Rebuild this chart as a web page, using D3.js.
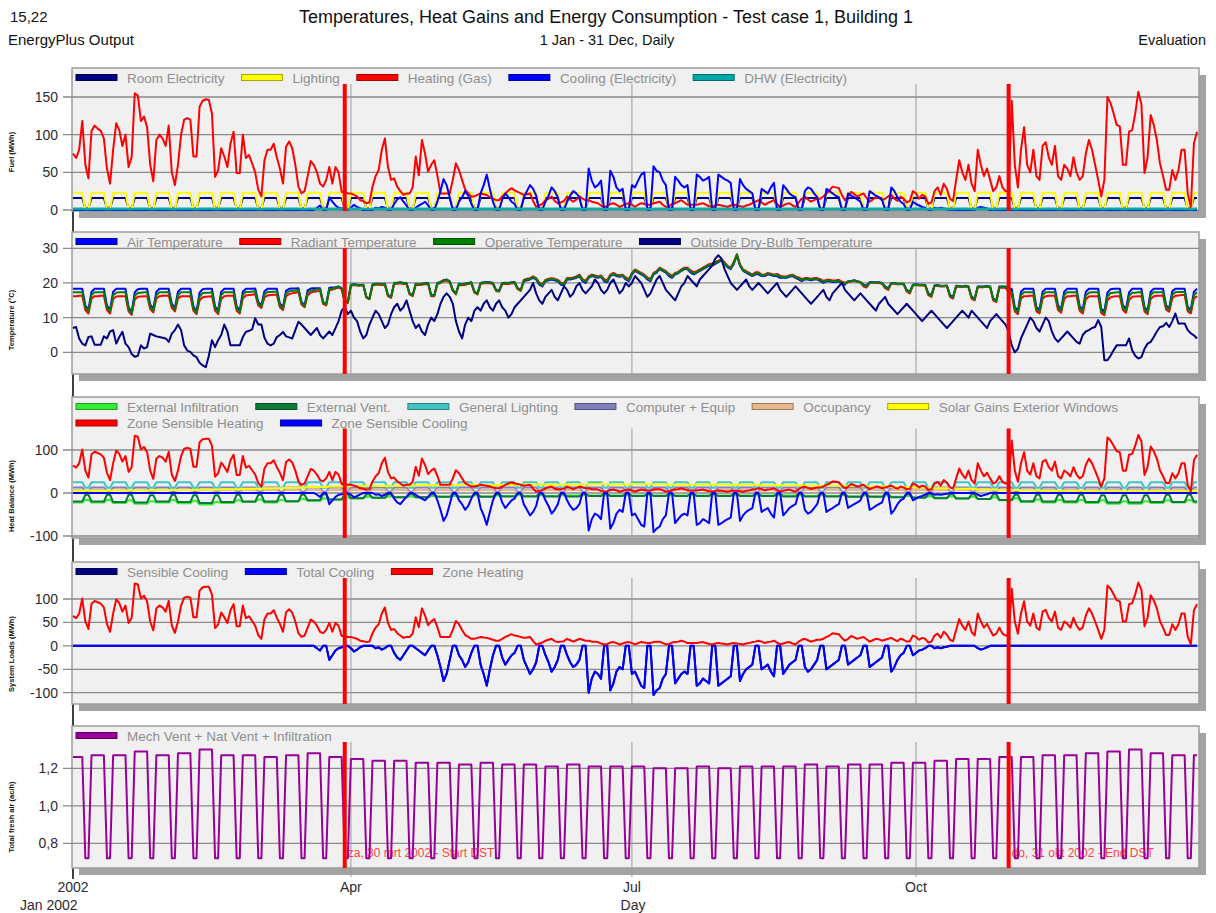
<!DOCTYPE html>
<html><head><meta charset="utf-8">
<script src="https://cdn.jsdelivr.net/npm/d3@7"></script>
<style>
body{margin:0;background:#fff;}
svg{display:block;font-family:"Liberation Sans",Arial,sans-serif;}
</style></head><body>
<svg id="chart" width="1216" height="913"></svg>
<script>
// ---- Calendar: daily values, 1 Jan 2002 (Tuesday) .. 31 Dec 2002 ----
const startDate = new Date(2002, 0, 1);
const endDate = new Date(2002, 11, 31);
const dates = d3.range(365).map(i => d3.timeDay.offset(startDate, i));

// ---- Fixed weekly schedules, indexed Sun..Sat ----
const roomElecWeek   = [2, 16, 16, 16, 16, 16, 2];
const lightingWeek   = [0, 23, 23, 23, 23, 23, 0];
const dhwWeek        = [1, 1.5, 1.5, 1.5, 1.5, 1.5, 1];
const genLightingWeek = [12, 25, 25, 25, 25, 25, 12];
const computerWeek   = [3, 13, 13, 13, 13, 13, 3];
const occupancyWeek  = [0, 7, 7, 7, 7, 7, 0];

// ---- Week-by-week levels (week 0 = Tue 1 Jan .. Sun 6 Jan, weeks start Monday) ----
const extVentWeekday = [-20,-20,-21,-22,-20,-21,-23,-21,-20,-20,
  -19,-17,-15,-12,-11,-10,-10,-9,-9,-9,
  -8,-8,-8,-8,-7,-7,-7,-7,-7,-7,
  -7,-7,-7,-8,-8,-8,-9,-9,-10,-11,
  -12,-13,-14,-16,-19,-20,-20,-21,-22,-22,
  -21,-21,-20];
const extVentWeekend = [-4,-4,-4,-5,-4,-5,-5,-4,-4,-4,
  -4,-3,-3,-3,-3,-3,-3,-3,-3,-3,
  -2,-2,-2,-2,-2,-2,-2,-2,-2,-2,
  -2,-2,-2,-2,-2,-3,-3,-3,-3,-3,
  -3,-3,-3,-4,-4,-4,-4,-5,-5,-5,
  -4,-4,-4];
const extInfWeekday = [-22,-22,-23,-25,-22,-24,-27,-23,-21,-22,
  -20,-18,-15,-12,-11,-10,-10,-9,-9,-8,
  -7,-7,-7,-6,-6,-6,-6,-6,-6,-6,
  -6,-6,-6,-6,-7,-7,-8,-8,-9,-10,
  -11,-12,-14,-17,-21,-22,-22,-23,-25,-25,
  -23,-22,-22];
const extInfWeekend = [-16,-16,-17,-19,-16,-18,-21,-17,-15,-16,
  -14,-13,-11,-9,-8,-8,-7,-7,-6,-6,
  -5,-5,-5,-5,-5,-5,-5,-5,-5,-5,
  -5,-5,-5,-5,-5,-5,-6,-6,-7,-8,
  -8,-9,-10,-12,-15,-16,-16,-17,-19,-19,
  -17,-16,-16];
const solarWeekly = [5,5,6,6,7,7,8,9,10,11,
  12,14,15,16,16,17,18,18,19,18,
  19,20,19,20,21,20,21,20,19,20,
  19,19,18,18,17,17,16,15,14,13,
  11,10,8,7,6,5,5,4,4,4,
  4,4,5];
const freshAirWeekday = [1.26,1.27,1.27,1.29,1.27,1.28,1.30,1.27,1.27,1.26,
  1.27,1.28,1.26,1.25,1.24,1.24,1.23,1.23,1.22,1.23,
  1.22,1.22,1.21,1.22,1.21,1.21,1.21,1.20,1.20,1.21,
  1.20,1.21,1.21,1.21,1.22,1.21,1.22,1.22,1.23,1.23,
  1.24,1.25,1.25,1.26,1.26,1.27,1.27,1.28,1.29,1.30,
  1.28,1.27,1.27];
const freshAirWeekend = 0.72;

// ---- Daily series (one row per week, Mon..Sun) ----
const heatingGas = [
  75,69,80,118,60,42,
  105,112,108,105,95,55,35,
  80,115,106,85,100,57,70,
  155,152,118,124,110,60,38,
  93,100,95,85,112,50,33,
  60,100,120,122,120,71,71,
  137,145,147,146,128,44,53,
  82,71,57,88,104,49,49,
  100,69,73,62,50,27,18,
  66,80,80,88,70,55,35,
  84,91,82,60,31,22,25,
  45,65,60,50,35,31,40,
  57,35,57,50,24,24,22,
  22,20,18,13,12,9,10,
  31,45,53,80,95,57,40,
  42,31,25,20,22,22,30,
  71,46,93,75,51,60,66,
  46,22,22,22,22,40,62,
  53,40,27,22,18,18,20,
  22,21,20,17,15,13,13,
  18,22,26,29,26,24,22,
  20,21,22,12,4,6,8,
  13,15,18,12,9,10,12,
  18,14,11,14,18,15,13,
  13,11,10,9,6,4,5,
  8,9,7,4,6,8,9,
  7,4,7,9,8,7,7,
  9,10,11,7,4,5,8,
  9,11,13,10,7,7,7,
  7,8,9,7,5,4,6,
  7,6,5,4,6,7,6,
  5,4,6,7,9,11,13,
  10,7,9,11,13,8,4,
  6,8,9,6,4,10,15,
  18,14,11,13,15,15,18,
  22,26,31,30,29,20,13,
  18,24,21,18,20,22,16,
  11,14,17,16,13,15,18,
  20,15,12,18,15,10,12,
  25,22,15,20,18,8,10,
  25,30,20,35,28,15,12,
  40,66,50,40,60,35,25,
  80,60,45,55,40,25,30,
  45,30,25,25,145,60,30,
  80,110,60,50,80,45,40,
  85,90,70,60,85,45,40,
  60,55,45,70,50,40,45,
  75,93,80,60,40,18,40,
  150,142,128,113,111,60,60,
  104,106,128,157,140,49,70,
  126,113,93,62,45,27,27,
  53,40,53,80,80,22,4,
  88,104];

const zoneSensibleHeating = [
  64,59,69,101,52,36,
  90,96,93,90,82,47,30,
  69,99,91,73,86,49,60,
  133,131,101,107,95,52,33,
  80,86,82,73,96,43,28,
  52,86,103,105,103,61,61,
  118,125,126,126,110,38,46,
  71,61,49,76,89,42,42,
  86,59,63,53,43,23,15,
  57,69,69,76,60,47,30,
  72,78,71,52,27,19,22,
  39,56,52,43,30,27,34,
  49,30,49,43,21,21,19,
  19,17,15,11,10,8,9,
  27,39,46,69,82,49,34,
  36,27,22,17,19,19,26,
  61,40,80,65,44,52,57,
  40,19,19,19,19,34,53,
  46,34,23,19,15,15,17,
  19,18,17,15,13,11,11,
  15,19,22,25,22,21,19,
  17,18,19,10,3,5,7,
  11,13,15,10,8,9,10,
  15,12,9,12,15,13,11,
  11,9,9,8,5,3,4,
  7,8,6,3,5,7,8,
  6,3,6,8,7,6,6,
  8,9,9,6,3,4,7,
  8,9,11,9,6,6,6,
  6,7,8,6,4,3,5,
  6,5,4,3,5,6,5,
  4,3,5,6,8,9,11,
  9,6,8,9,11,7,3,
  5,7,8,5,3,9,13,
  15,12,9,11,13,13,15,
  19,22,27,26,25,17,11,
  15,21,18,15,17,19,14,
  9,12,15,14,11,13,15,
  17,13,10,15,13,9,10,
  22,19,13,17,15,7,9,
  22,26,17,30,24,13,10,
  34,57,43,34,52,30,22,
  69,52,39,47,34,22,26,
  39,26,22,22,122,52,26,
  69,95,52,43,69,39,34,
  73,77,60,52,73,39,34,
  52,47,39,60,43,34,39,
  65,80,69,52,34,15,34,
  129,122,110,97,95,52,52,
  89,91,110,135,120,42,60,
  108,97,80,53,39,23,23,
  46,34,46,69,69,19,3,
  76,89];

const totalCooling = [
  0,0,0,0,0,0,
  0,0,0,0,0,0,0, 0,0,0,0,0,0,0, 0,0,0,0,0,0,0, 0,0,0,0,0,0,0, 0,0,0,0,0,0,0,
  0,0,0,0,0,0,0, 0,0,0,0,0,0,0, 0,0,0,0,0,0,0, 0,0,0,0,0,0,0, 0,0,0,0,0,0,0,
  0,0,0,-5,-10,0,0,
  -30,-20,-10,-5,-3,0,0,
  -5,-12,-8,-3,0,0,0,
  0,-5,-3,-8,-5,0,0,
  -15,-25,-30,-20,-10,0,0,
  -5,-10,-15,-20,-10,0,0,
  -20,-45,-75,-60,-30,0,0,
  -20,-30,-45,-35,-15,0,0,
  -40,-60,-85,-50,-20,0,0,
  -25,-40,-30,-20,-15,0,0,
  -30,-45,-60,-50,-35,0,0,
  -20,-35,-55,-45,-30,0,0,
  -20,-35,-45,-40,-30,0,0,
  -100,-70,-55,-60,-70,0,0,
  -95,-80,-55,-45,-50,0,0,
  -60,-55,-70,-85,-90,0,0,
  -105,-95,-90,-70,-60,0,0,
  -80,-70,-60,-55,-60,0,0,
  -85,-80,-70,-75,-80,0,0,
  -85,-80,-75,-70,-65,0,0,
  -75,-60,-50,-45,-40,0,0,
  -50,-45,-40,-55,-65,0,0,
  -60,-50,-40,-35,-30,0,0,
  -45,-55,-50,-40,-30,0,0,
  -50,-45,-40,-35,-30,0,0,
  -40,-35,-30,-25,-20,0,0,
  -45,-40,-35,-30,-25,0,0,
  -55,-45,-30,-20,-15,0,0,
  -20,-15,-10,-8,-5,0,0,
  -5,-3,-5,-3,-2,0,0,
  0,0,0,0,0,0,0,
  -5,-8,-6,-3,0,0,0,
  0,0,0,0,0,0,0, 0,0,0,0,0,0,0, 0,0,0,0,0,0,0, 0,0,0,0,0,0,0, 0,0,0,0,0,0,0,
  0,0,0,0,0,0,0, 0,0,0,0,0,0,0, 0,0,0,0,0,0,0, 0,0,0,0,0,0,0,
  0,0];

const zoneSensibleCooling = [
  0,0,0,0,0,0,
  0,0,0,0,0,0,0, 0,0,0,0,0,0,0, 0,0,0,0,0,0,0, 0,0,0,0,0,0,0, 0,0,0,0,0,0,0,
  0,0,0,0,0,0,0, 0,0,0,0,0,0,0, 0,0,0,0,0,0,0, 0,0,0,0,0,0,0, 0,0,0,0,0,0,0,
  0,0,0,-4,-9,0,0,
  -26,-17,-9,-4,-3,0,0,
  -4,-10,-7,-3,0,0,0,
  0,-4,-3,-7,-4,0,0,
  -13,-22,-26,-17,-9,0,0,
  -4,-9,-13,-17,-9,0,0,
  -17,-39,-65,-52,-26,0,0,
  -17,-26,-39,-30,-13,0,0,
  -35,-52,-74,-44,-17,0,0,
  -22,-35,-26,-17,-13,0,0,
  -26,-39,-52,-44,-30,0,0,
  -17,-30,-48,-39,-26,0,0,
  -17,-30,-39,-35,-26,0,0,
  -87,-61,-48,-52,-61,0,0,
  -83,-70,-48,-39,-44,0,0,
  -52,-48,-61,-74,-78,0,0,
  -91,-83,-78,-61,-52,0,0,
  -70,-61,-52,-48,-52,0,0,
  -74,-70,-61,-65,-70,0,0,
  -74,-70,-65,-61,-57,0,0,
  -65,-52,-44,-39,-35,0,0,
  -44,-39,-35,-48,-57,0,0,
  -52,-44,-35,-30,-26,0,0,
  -39,-48,-44,-35,-26,0,0,
  -44,-39,-35,-30,-26,0,0,
  -35,-30,-26,-22,-17,0,0,
  -39,-35,-30,-26,-22,0,0,
  -48,-39,-26,-17,-13,0,0,
  -17,-13,-9,-7,-4,0,0,
  -4,-3,-4,-3,-2,0,0,
  0,0,0,0,0,0,0,
  -4,-7,-5,-3,0,0,0,
  0,0,0,0,0,0,0, 0,0,0,0,0,0,0, 0,0,0,0,0,0,0, 0,0,0,0,0,0,0, 0,0,0,0,0,0,0,
  0,0,0,0,0,0,0, 0,0,0,0,0,0,0, 0,0,0,0,0,0,0, 0,0,0,0,0,0,0,
  0,0];

const coolingElec = [
  0,0,0,0,0,0,
  0,0,0,0,0,0,0, 0,0,0,0,0,0,0, 0,0,0,0,0,0,0, 0,0,0,0,0,0,0, 0,0,0,0,0,0,0,
  0,0,0,0,0,0,0, 0,0,0,0,0,0,0, 0,0,0,0,0,0,0, 0,0,0,0,0,0,0, 0,0,0,0,0,0,0,
  0,0,0,3,6,0,0,
  17,11,6,3,2,0,0,
  3,7,4,2,0,0,0,
  0,3,2,4,3,0,0,
  8,14,17,11,6,0,0,
  3,6,8,11,6,0,0,
  11,25,41,33,17,0,0,
  11,17,25,19,8,0,0,
  22,33,47,28,11,0,0,
  14,22,17,11,8,0,0,
  17,25,33,28,19,0,0,
  11,19,30,25,17,0,0,
  11,19,25,22,17,0,0,
  55,39,30,33,39,0,0,
  52,44,30,25,28,0,0,
  33,30,39,47,50,0,0,
  58,52,50,39,33,0,0,
  44,39,33,30,33,0,0,
  47,44,39,41,44,0,0,
  47,44,41,39,36,0,0,
  41,33,28,25,22,0,0,
  28,25,22,30,36,0,0,
  33,28,22,19,17,0,0,
  25,30,28,22,17,0,0,
  28,25,22,19,17,0,0,
  22,19,17,14,11,0,0,
  25,22,19,17,14,0,0,
  30,25,17,11,8,0,0,
  11,8,6,4,3,0,0,
  3,2,3,2,1,0,0,
  0,0,0,0,0,0,0,
  3,4,3,2,0,0,0,
  0,0,0,0,0,0,0, 0,0,0,0,0,0,0, 0,0,0,0,0,0,0, 0,0,0,0,0,0,0, 0,0,0,0,0,0,0,
  0,0,0,0,0,0,0, 0,0,0,0,0,0,0, 0,0,0,0,0,0,0, 0,0,0,0,0,0,0,
  0,0];

const outsideTemp = [
  7,7.3,4,2.5,2,4.4,
  4.6,2.2,2.2,2.2,4.6,4,6,
  6.4,2.5,4.4,5.9,2.5,1.5,-0.5,
  -1.3,-1,2,1.1,1.5,5.4,5,
  4.6,4.4,4.2,4,3,5.4,6.4,
  8,6.4,2,0.5,0.1,-0.9,-1.4,
  -3,-3.8,-4.3,-1,3.5,1.5,3.5,
  5,8,6,2,2,2,2,
  4.4,5.9,6.2,6.6,9.8,8,8,
  4.2,2.5,2,2.5,4.4,5,5.9,
  4.6,4.3,4,6.4,8.8,8,7,
  6,5,6,7,5,4,5,
  6,5,7,9,12,13,11,
  12,10,9,6,4,5,8,
  10,12,11,9,7,8,11,
  13,14,12,13,15,12,9,
  7,8,6,5,8,10,9,
  11,14,16,17,16,14,9,
  6,4,8,10,9,12,13,
  12,14,15,13,12,14,15,
  13,12,10,11,13,14,15,
  16,17,18,20,17,15,14,
  16,17,18,16,15,17,19,
  18,16,17,19,20,18,17,
  18,19,21,20,18,17,18,
  20,21,19,17,18,20,19,
  20,22,21,20,18,16,17,
  19,21,22,20,18,17,16,
  15,17,19,20,22,21,20,
  19,21,22,23,24,25,27,
  28,27,24,22,20,19,18,
  19,20,21,19,18,19,20,
  19,18,17,18,19,20,18,
  17,16,17,18,19,18,17,
  16,15,14,15,16,17,18,
  16,15,17,18,19,20,18,
  17,16,15,16,17,16,15,
  14,13,12,14,15,16,14,
  13,12,11,12,13,14,13,
  12,11,10,9,10,11,12,
  11,10,9,8,7,8,9,
  10,11,12,11,10,12,11,
  10,9,8,7,9,10,11,
  10,9,8,6,2,0,1,
  4,6,8,10,9,7,6,
  8,10,9,6,4,3,4,
  5,6,5,4,3,2.5,5,
  6,6.4,7,7.3,9.3,7.3,-2.3,
  -2.3,-1,0.6,2,2,2,2,
  4,0.6,-1,-1.8,-1.4,1,2.5,
  3,4.4,6,7.3,7.5,8.5,7.3,
  9,11.2,8.3,8.3,8.3,6.4,5.5,
  4.9,4];

const airTemp = [
  18.3,18.3,18.3,18.3,13.5,12.3,
  17.5,18.3,18.3,18.3,18.3,13.5,12.3,
  17.5,18.3,18.3,18.3,18.3,13,11.5,
  17.3,18.2,18.3,18.3,18.3,13.8,12.5,
  17.5,18.3,18.3,18.3,18.3,14,12.8,
  17.5,18.3,18.3,18.3,18.3,13.2,11.8,
  17.2,18.2,18.3,18.3,18.3,13.3,12,
  17.5,18.3,18.3,18.3,18.3,13.3,12,
  17.5,18.3,18.3,18.3,18.4,14.5,13.5,
  17.6,18.3,18.3,18.3,18.3,14,13,
  17.8,18.3,18.4,18.4,18.5,14.5,13.5,
  17.9,18.4,18.5,18.5,18.5,14.5,14,
  18.6,18.7,18.8,19,18.5,15,14.5,
  19.5,19.6,19.5,19.4,19.5,16,15.5,
  19.6,19.8,19.8,19.7,19.8,16.5,16,
  20,20.1,20.2,20,20,17,16.5,
  19.8,19.7,19.8,19.9,20,16.5,16.5,
  20,20.3,20.8,21,20.5,18,17,
  19.8,19.6,19.8,20,20.2,17.5,17,
  20,20.2,20.3,20.2,20,18,17.8,
  20,20.1,20,20.2,20.3,18.5,18,
  20.5,20.8,21,21.5,21,19.5,19,
  20.5,20.8,21,20.8,20.5,19.5,19.3,
  21,21,21.2,21.5,22,20.5,20,
  21.5,22,21.8,21.5,21.8,20.5,20.2,
  22,22.5,22,21.8,22,21,20.5,
  22.5,23.5,23,22.5,22,21,20.5,
  22.5,23,24,23.5,23,22,21.5,
  22.5,22.8,23.5,24,24,23,22.5,
  23,23.5,24,24.5,25,25,25.5,
  26,26.5,25.5,24.5,24,25.5,28,
  25,23.5,23,22.5,22,22.5,22.5,
  22,22,22.5,22.3,22,22,21.5,
  21.5,21.5,21.8,22,21.5,21,20.5,
  21,21,20.8,21,21,20.5,20,
  20.5,20.5,20.3,20.3,20.5,19.8,19.5,
  20.5,20.6,20.8,20.5,20.3,19.5,19.2,
  20.2,20.3,20.2,20.2,20,19,18.5,
  20,20,19.8,19.8,19.8,18,17.5,
  19.5,19.6,19.5,19.5,19.4,17,16.5,
  19.3,19.4,19.2,19.2,19.3,16.5,16,
  19.2,19.1,19,19.2,19,16,15.5,
  19,19,19,19.1,19,15.5,15,
  19,19,19,18.5,18.3,13,12,
  17.5,18.3,18.3,18.3,18.3,13,12.3,
  17.5,18.3,18.3,18.3,18.3,13.5,12.5,
  17.5,18.3,18.3,18.3,18.3,13.3,12.3,
  17.5,18.3,18.3,18.3,18.3,12.5,11.8,
  17.2,18.2,18.3,18.3,18.3,13.5,12.5,
  17.3,18.3,18.3,18.3,18.3,13,12,
  17.5,18.3,18.3,18.3,18.3,13.5,12.8,
  17.6,18.3,18.3,18.3,18.3,13,12.3,
  17.5,18.3];

const radiantTemp = [
  16.2,16.2,16.3,16.3,12.2,11.2,
  15.5,16.2,16.2,16.3,16.3,12.2,11.2,
  15.4,16.1,16.2,16.2,16.2,11.8,10.8,
  15.2,16,16.1,16.2,16.2,12.5,11.5,
  15.5,16.2,16.3,16.3,16.4,12.8,11.8,
  15.5,16.2,16.2,16.2,16.2,12,11,
  15,15.9,16,16.1,16.2,12,11,
  15.4,16.2,16.3,16.3,16.3,12,11.2,
  15.6,16.4,16.5,16.6,16.8,13.5,12.8,
  15.8,16.4,16.5,16.6,16.6,13,12.2,
  16.2,16.8,17,17.2,17.4,13.8,13,
  16.5,17.2,17.5,17.6,17.8,14,13.5,
  17.8,18.1,18.4,18.7,18.2,14.6,14.2,
  19.2,19.4,19.3,19.2,19.4,15.8,15.3,
  19.3,19.5,19.5,19.4,19.5,16.2,15.7,
  19.7,19.8,19.9,19.7,19.7,16.7,16.2,
  19.5,19.4,19.5,19.6,19.7,16.2,16.2,
  19.7,20,20.5,20.7,20.2,17.7,16.7,
  19.5,19.3,19.5,19.7,19.9,17.2,16.7,
  19.7,19.9,20,19.9,19.7,17.7,17.5,
  19.7,19.8,19.7,19.9,20,18.2,17.7,
  20.9,21.2,21.4,21.9,21.4,20.1,19.6,
  20.9,21.2,21.4,21.2,20.9,20.1,19.9,
  21.4,21.4,21.6,21.9,22.4,21.1,20.6,
  21.9,22.4,22.2,21.9,22.2,21.1,20.8,
  22.4,22.9,22.4,22.2,22.4,21.6,21.1,
  22.9,23.9,23.4,22.9,22.4,21.6,21.1,
  22.9,23.4,24.4,23.9,23.4,22.6,22.1,
  22.9,23.2,23.9,24.4,24.4,23.6,23.1,
  23.4,23.9,24.4,24.9,25.4,25.6,26.1,
  26.4,26.9,25.9,24.9,24.4,26.1,28.3,
  25.4,23.9,23.4,22.9,22.4,23.1,23.1,
  22.4,22.4,22.9,22.7,22.4,22.6,22.1,
  21.9,21.9,22.2,22.4,21.9,21.6,21.1,
  21.4,21.4,21.2,21.4,21.4,21.1,20.6,
  20.9,20.9,20.7,20.7,20.9,20.4,20.1,
  20.3,20.4,20.6,20.3,20.1,19,18.7,
  20,20.1,20,20,19.8,18.5,18,
  19.8,19.8,19.6,19.6,19.6,17.5,17,
  19.3,19.4,19.3,19.3,19.2,16.5,16,
  19.1,19.2,19,19,19.1,16,15.5,
  19,18.9,18.8,19,18.8,15.5,15,
  18.8,18.8,18.8,18.9,18.8,15,14.5,
  18.6,18.7,18.6,17.5,16.5,11.8,11,
  15.5,16.2,16.2,16.3,16.3,11.8,11.2,
  15.5,16.2,16.3,16.3,16.3,12.2,11.4,
  15.4,16.2,16.2,16.3,16.3,12,11.2,
  15.3,16.1,16.2,16.2,16.2,11.3,10.7,
  15,15.9,16.1,16.2,16.2,12.2,11.4,
  15.1,16,16.1,16.2,16.2,11.8,11,
  15.4,16.2,16.3,16.3,16.4,12.3,11.7,
  15.6,16.3,16.4,16.5,16.5,11.8,11.2,
  15.5,16.2];

const operativeTemp = [
  17.3,17.3,17.3,17.3,12.9,11.8,
  16.5,17.3,17.3,17.3,17.3,12.9,11.8,
  16.5,17.2,17.3,17.3,17.3,12.4,11.2,
  16.3,17.1,17.2,17.3,17.3,13.2,12,
  16.5,17.3,17.3,17.3,17.4,13.4,12.3,
  16.5,17.3,17.3,17.3,17.3,12.6,11.4,
  16.1,17.1,17.2,17.2,17.3,12.7,11.5,
  16.5,17.3,17.3,17.3,17.3,12.7,11.6,
  16.6,17.4,17.4,17.5,17.6,14,13.2,
  16.7,17.4,17.4,17.5,17.5,13.5,12.6,
  17,17.6,17.7,17.8,18,14.2,13.3,
  17.2,17.8,18,18.1,18.2,14.3,13.8,
  18.2,18.4,18.6,18.9,18.4,14.8,14.4,
  19.4,19.5,19.4,19.3,19.5,15.9,15.4,
  19.5,19.7,19.7,19.6,19.7,16.4,15.9,
  19.9,20,20.1,19.9,19.9,16.9,16.4,
  19.7,19.6,19.7,19.8,19.9,16.4,16.4,
  19.9,20.2,20.7,20.9,20.4,17.9,16.9,
  19.7,19.5,19.7,19.9,20.1,17.4,16.9,
  19.9,20.1,20.2,20.1,19.9,17.9,17.7,
  19.9,20,19.9,20.1,20.2,18.4,17.9,
  20.7,21,21.2,21.7,21.2,19.8,19.3,
  20.7,21,21.2,21,20.7,19.8,19.6,
  21.2,21.2,21.4,21.7,22.2,20.8,20.3,
  21.7,22.2,22,21.7,22,20.8,20.5,
  22.2,22.7,22.2,22,22.2,21.3,20.8,
  22.7,23.7,23.2,22.7,22.2,21.3,20.8,
  22.7,23.2,24.2,23.7,23.2,22.3,21.8,
  22.7,23,23.7,24.2,24.2,23.3,22.8,
  23.2,23.7,24.2,24.7,25.2,25.3,25.8,
  26.2,26.7,25.7,24.7,24.2,25.8,28.2,
  25.2,23.7,23.2,22.7,22.2,22.8,22.8,
  22.2,22.2,22.7,22.5,22.2,22.3,21.8,
  21.7,21.7,22,22.2,21.7,21.3,20.8,
  21.2,21.2,21,21.2,21.2,20.8,20.3,
  20.7,20.7,20.5,20.5,20.7,20.1,19.8,
  20.4,20.5,20.7,20.4,20.2,19.3,19,
  20.1,20.2,20.1,20.1,19.9,18.8,18.3,
  19.9,19.9,19.7,19.7,19.7,17.8,17.3,
  19.4,19.5,19.4,19.4,19.3,16.8,16.3,
  19.2,19.3,19.1,19.1,19.2,16.3,15.8,
  19.1,19,18.9,19.1,18.9,15.8,15.3,
  18.9,18.9,18.9,19,18.9,15.3,14.8,
  18.8,18.9,18.8,18,17.4,12.4,11.5,
  16.5,17.3,17.3,17.3,17.3,12.4,11.8,
  16.5,17.3,17.3,17.3,17.3,12.9,12,
  16.5,17.3,17.3,17.3,17.3,12.7,11.8,
  16.4,17.2,17.3,17.3,17.3,11.9,11.3,
  16.1,17.1,17.2,17.3,17.3,12.9,12,
  16.2,17.2,17.2,17.3,17.3,12.4,11.5,
  16.5,17.3,17.3,17.3,17.4,12.9,12.3,
  16.6,17.3,17.4,17.4,17.4,12.4,11.8,
  16.5,17.3];

// ---- Markers and axis text ----
const dstMarkers = [
  {date: new Date(2002, 2, 30), label: "za, 30 mrt 2002 - Start DST"},
  {date: new Date(2002, 9, 31), label: "do, 31 okt 2002 - End DST"}
];
const monthTicks = [new Date(2002, 3, 1), new Date(2002, 6, 1), new Date(2002, 9, 1)];
const monthTickLabels = ["Apr", "Jul", "Oct"];

// ---- Expansion of schedules onto the daily calendar ----
const weekOf = i => Math.floor((i + 1) / 7);
const isWeekend = d => d.getDay() === 0 || d.getDay() === 6;
const fromWeekProfile = prof => dates.map(d => prof[d.getDay()]);
const fromWeekLevels = (wk, we) => dates.map((d, i) => isWeekend(d) ? we[weekOf(i)] : wk[weekOf(i)]);
const fromWeekly = arr => dates.map((d, i) => arr[weekOf(i)]);

const panels = [
  {top: 68, bottom: 211, domain: [0, 150], range: [210, 97], ticks: [0, 50, 100, 150], fmt: d => d,
   title: "Fuel (MWh)", titleY: 152,
   series: [
     {name: "Room Electricity", color: "#000080", values: fromWeekProfile(roomElecWeek)},
     {name: "Lighting", color: "#ffff00", values: fromWeekProfile(lightingWeek)},
     {name: "Heating (Gas)", color: "#ff0000", values: heatingGas},
     {name: "Cooling (Electricity)", color: "#0000ff", values: coolingElec},
     {name: "DHW (Electricity)", color: "#00a8a8", values: fromWeekProfile(dhwWeek), width: 2.6}
   ]},
  {top: 232, bottom: 374, domain: [0, 30], range: [352.3, 248.3], ticks: [0, 10, 20, 30], fmt: d => d,
   title: "Temperature (°C)", titleY: 320,
   series: [
     {name: "Air Temperature", color: "#0000ff", values: airTemp},
     {name: "Radiant Temperature", color: "#ff0000", values: radiantTemp},
     {name: "Operative Temperature", color: "#008000", values: operativeTemp},
     {name: "Outside Dry-Bulb Temperature", color: "#000080", values: outsideTemp}
   ]},
  {top: 397, bottom: 538, domain: [-100, 100], range: [536, 450], ticks: [-100, 0, 100], fmt: d => d,
   title: "Heat Balance (MWh)", titleY: 496,
   series: [
     {name: "External Infiltration", color: "#33ee33", values: fromWeekLevels(extInfWeekday, extInfWeekend)},
     {name: "External Vent.", color: "#0b7a3b", values: fromWeekLevels(extVentWeekday, extVentWeekend)},
     {name: "General Lighting", color: "#40c4c4", values: fromWeekProfile(genLightingWeek)},
     {name: "Computer + Equip", color: "#7f7fbf", values: fromWeekProfile(computerWeek)},
     {name: "Occupancy", color: "#e6b98c", values: fromWeekProfile(occupancyWeek)},
     {name: "Solar Gains Exterior Windows", color: "#ffff00", values: fromWeekly(solarWeekly)},
     {name: "Zone Sensible Heating", color: "#ff0000", values: zoneSensibleHeating},
     {name: "Zone Sensible Cooling", color: "#0000ff", values: zoneSensibleCooling}
   ]},
  {top: 562, bottom: 704, domain: [-100, 100], range: [692.7, 599], ticks: [-100, -50, 0, 50, 100], fmt: d => d,
   title: "System Loads (MWh)", titleY: 654,
   series: [
     {name: "Sensible Cooling", color: "#000080", values: totalCooling},
     {name: "Total Cooling", color: "#0000ff", values: totalCooling},
     {name: "Zone Heating", color: "#ff0000", values: zoneSensibleHeating}
   ]},
  {top: 726, bottom: 868, domain: [0.8, 1.2], range: [843.3, 768.3], ticks: [0.8, 1.0, 1.2], fmt: d => d3.format(".1f")(d).replace(".", ","),
   title: "Total fresh air (ac/h)", titleY: 817, isLast: true,
   series: [
     {name: "Mech Vent + Nat Vent + Infiltration", color: "#990099",
      values: fromWeekLevels(freshAirWeekday, freshAirWeekday.map(() => freshAirWeekend))}
   ]}
];

// ---- Drawing ----
const svg = d3.select("#chart");
const x = d3.scaleTime().domain([startDate, endDate]).range([73, 1197]);
const frameL = 72, frameR = 1199;

// Header
svg.append("text").attr("x", 10).attr("y", 22).attr("font-size", 15).attr("fill", "#111").text("15,22");
svg.append("text").attr("x", 8).attr("y", 45).attr("font-size", 15).attr("fill", "#111").text("EnergyPlus Output");
svg.append("text").attr("x", 606).attr("y", 23).attr("font-size", 18).attr("text-anchor", "middle").attr("fill", "#111")
  .text("Temperatures, Heat Gains and Energy Consumption - Test case 1, Building 1");
svg.append("text").attr("x", 607).attr("y", 45).attr("font-size", 14.5).attr("text-anchor", "middle").attr("fill", "#111")
  .text("1 Jan - 31 Dec, Daily");
svg.append("text").attr("x", 1206).attr("y", 45).attr("font-size", 14.5).attr("text-anchor", "end").attr("fill", "#111")
  .text("Evaluation");

// Start-of-year axis line running behind the panels
svg.append("line").attr("x1", x(startDate)).attr("x2", x(startDate)).attr("y1", 68).attr("y2", 879)
  .attr("stroke", "#000").attr("stroke-width", 1.5);

panels.forEach(p => {
  const g = svg.append("g");
  const y = d3.scaleLinear().domain(p.domain).range(p.range);
  const h = p.bottom - p.top;

  // drop shadow and frame
  g.append("rect").attr("x", frameL + 7).attr("y", p.top + 7).attr("width", frameR - frameL).attr("height", h)
    .attr("fill", "#a3a3a3");
  g.append("rect").attr("x", frameL).attr("y", p.top).attr("width", frameR - frameL).attr("height", h)
    .attr("fill", "#f0f0f0").attr("stroke", "#9c9c9c").attr("stroke-width", 1.5);

  // legend (wraps to a second row when needed)
  const lg = g.append("g");
  let lx = 76, row = 0;
  p.series.forEach(s => {
    const t = lg.append("text").attr("font-size", 13.5).attr("fill", "#8e8e8e").text(s.name);
    const tw = t.node().getComputedTextLength();
    if (lx + 51 + tw > 1192) { row++; lx = 76; }
    const cy = p.top + 9.5 + row * 16.5;
    lg.append("rect").attr("x", lx).attr("y", cy - 3).attr("width", 41).attr("height", 6)
      .attr("fill", s.color).attr("stroke", d3.color(s.color).darker(1.2)).attr("stroke-width", 1);
    t.attr("x", lx + 51).attr("y", cy + 5);
    lx += 51 + tw + 17;
  });
  const plotTop = p.top + 16 + row * 15.5;

  // horizontal grid lines with left tick stubs
  p.ticks.forEach(v => {
    g.append("line").attr("x1", 63).attr("x2", frameR).attr("y1", y(v)).attr("y2", y(v))
      .attr("stroke", "#8a8a8a").attr("stroke-width", 1.3);
    g.append("text").attr("x", 58).attr("y", y(v)).attr("dy", "0.35em").attr("text-anchor", "end")
      .attr("font-size", 14).attr("fill", "#2b2b33").text(p.fmt(v));
  });

  // month grid lines
  monthTicks.forEach(m => {
    g.append("line").attr("x1", x(m)).attr("x2", x(m)).attr("y1", plotTop)
      .attr("y2", p.isLast ? p.bottom + 9 : p.bottom)
      .attr("stroke", "#9a9a9a").attr("stroke-width", 1);
  });

  // DST annotations (bottom panel)
  if (p.isLast) {
    dstMarkers.forEach(m => {
      g.append("text").attr("x", x(m.date) + 3).attr("y", p.bottom - 11).attr("font-size", 12)
        .attr("fill", "#ff2a2a").attr("fill-opacity", 0.9).text(m.label);
    });
  }

  // y-axis title
  g.append("text").attr("transform", `translate(14,${p.titleY}) rotate(-90)`).attr("text-anchor", "middle")
    .attr("font-size", 7.5).attr("font-weight", "bold").attr("fill", "#111").text(p.title);

  // series
  const line = d3.line().x((d, i) => x(dates[i])).y(d => y(d));
  p.series.forEach(s => {
    g.append("path").attr("d", line(s.values)).attr("fill", "none").attr("stroke", s.color)
      .attr("stroke-width", s.width || 2).attr("stroke-linejoin", "round");
  });

  // DST marker lines
  dstMarkers.forEach(m => {
    g.append("line").attr("x1", x(m.date)).attr("x2", x(m.date)).attr("y1", plotTop).attr("y2", p.bottom)
      .attr("stroke", "#ff0000").attr("stroke-width", 4);
  });

  // x-axis labels under the last panel
  if (p.isLast) {
    g.append("text").attr("x", x(startDate)).attr("y", 892).attr("text-anchor", "middle").attr("font-size", 14)
      .attr("fill", "#2b2b33").text("2002");
    monthTicks.forEach((m, i) => {
      g.append("text").attr("x", x(m)).attr("y", 892).attr("text-anchor", "middle").attr("font-size", 14)
        .attr("fill", "#2b2b33").text(monthTickLabels[i]);
    });
    g.append("text").attr("x", 20).attr("y", 910).attr("font-size", 14).attr("fill", "#2b2b33").text("Jan 2002");
    g.append("text").attr("x", 633).attr("y", 910).attr("text-anchor", "middle").attr("font-size", 14)
      .attr("fill", "#2b2b33").text("Day");
  }
});
</script></body></html>
